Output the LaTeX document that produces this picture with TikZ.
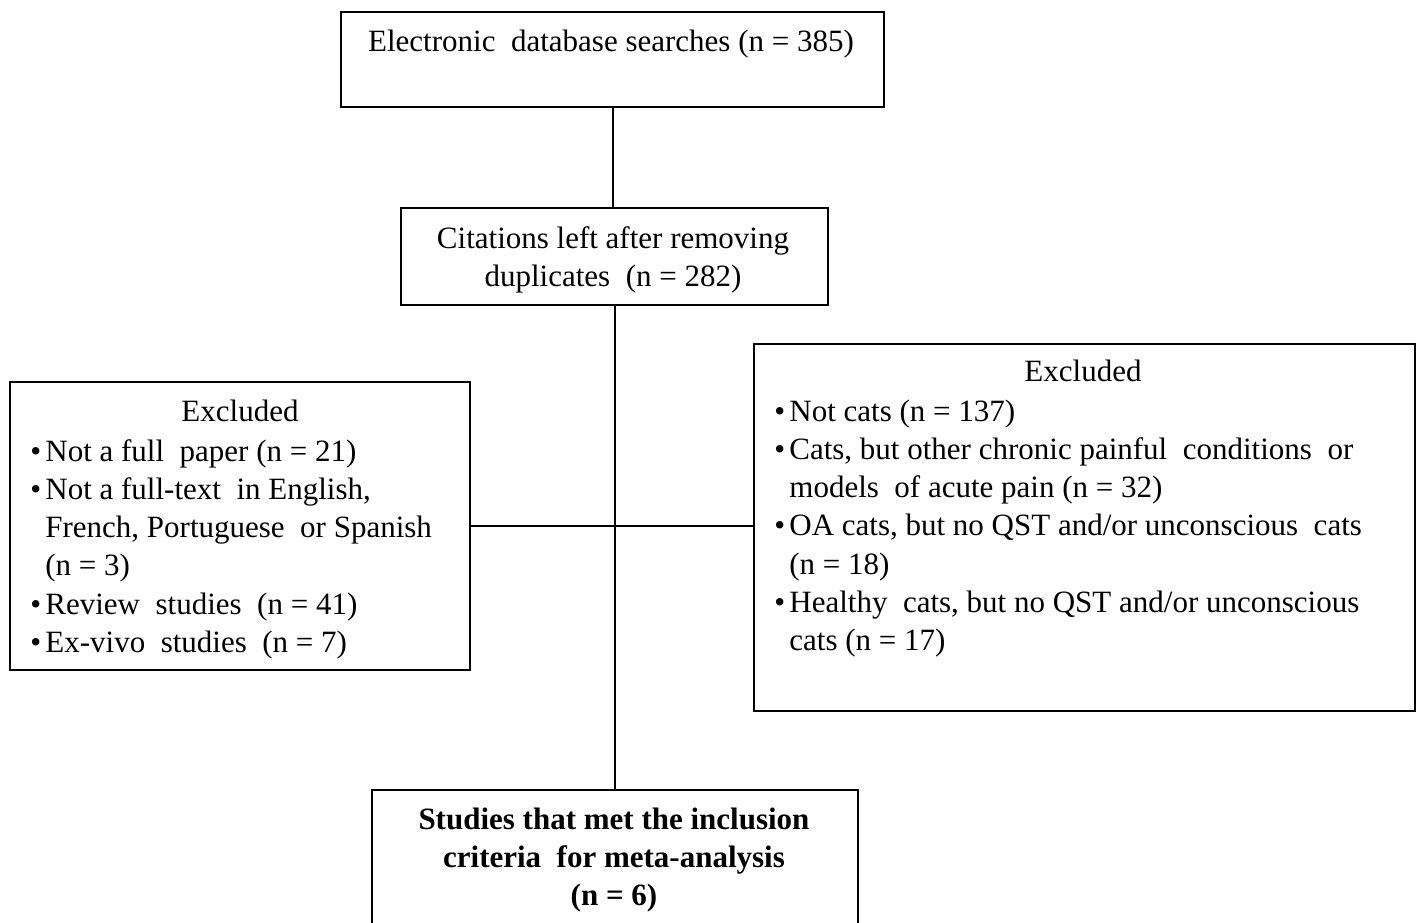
\documentclass[tikz,border=0pt]{standalone}
\usepackage{fontspec}
\setmainfont{Liberation Serif}
% bullet followed by the text column; \ind keeps wrapped lines aligned
\newcommand{\bul}{\makebox[7.5pt][l]{\textbullet}}
\newcommand{\ind}{\hspace*{7.5pt}}
\begin{document}
\begin{tikzpicture}[x=0.5pt,y=-0.5pt,
  box/.style={draw, line width=1pt, inner sep=0pt},
  txt/.style={inner sep=0pt, anchor=base west, font=\fontsize{15.5}{19.15}\selectfont},
  ctxt/.style={inner sep=0pt, anchor=base, font=\fontsize{15.5}{19.2}\selectfont},
  link/.style={line width=1pt}]
\clip (0,0) rectangle (1419,922);
\fill[white] (0,0) rectangle (1419,922);

% boxes
\node[box, minimum width=271.5pt, minimum height=47.5pt] (top) at (612.5,59.5) {};
\node[box, minimum width=213.5pt, minimum height=48.5pt] (mid) at (614.5,256.5) {};
\node[box, minimum width=230pt, minimum height=144pt] (left) at (240,526) {};
\node[box, minimum width=330.5pt, minimum height=183.5pt] (right) at (1084.5,527.5) {};
\node[box, minimum width=243pt, minimum height=85pt] (bot) at (615,875) {};

% texts
\node[ctxt] (toptxt) at (611,51) {Electronic\ \ database searches\ (n = 385)};
\node[ctxt] (midtxt) at (613,248) {\parbox[t]{210pt}{\centering
  Citations left after removing\\ duplicates\ \ (n = 282)}};

\node[ctxt] (lhead) at (240,421) {Excluded};
\node[txt] (ltxt) at (30,461) {\parbox[t]{225pt}{\raggedright
  \bul Not a full\ \ paper (n = 21)\\
  \bul Not a full-text\ \ in English,\\
  \ind French,\ Portuguese\ \ or Spanish\\
  \ind (n = 3)\\
  \bul Review\ \ studies\ \ (n = 41)\\
  \bul Ex-vivo\ \ studies\ \ (n = 7)}};

\node[ctxt] (rhead) at (1083,381) {Excluded};
\node[txt] (rtxt) at (774,421) {\parbox[t]{320pt}{\raggedright
  \bul Not cats (n = 137)\\
  \bul Cats, but other chronic painful\ \ conditions\ \ or\\
  \ind models\ \ of acute pain (n = 32)\\
  \bul OA cats, but no QST and/or unconscious\ \ cats\\
  \ind (n = 18)\\
  \bul Healthy\ \ cats, but no QST and/or unconscious\\
  \ind cats (n = 17)}};

\node[ctxt] (bottxt) at (614,829) {\parbox[t]{240pt}{\centering\bfseries
  Studies that met the inclusion\\ criteria\ \ for meta-analysis\\ (n = 6)}};

% connectors
\draw[link] (top.south) -- (top.south |- mid.north);
\draw[link] (mid.south) -- (mid.south |- bot.north);
\draw[link] (left.east) -- (left.east -| right.west);
\end{tikzpicture}
\end{document}
